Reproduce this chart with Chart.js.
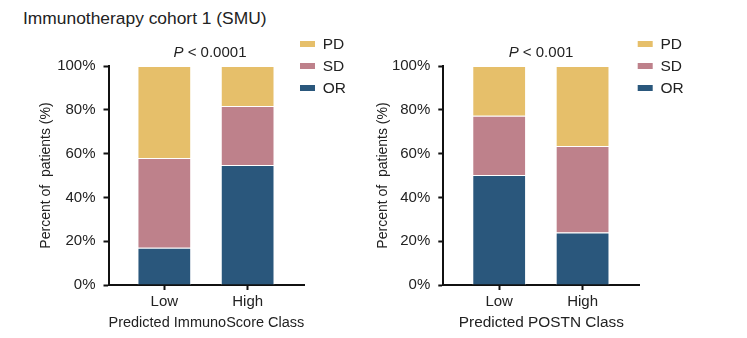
<!DOCTYPE html>
<html><head><meta charset="utf-8">
<script src="https://cdn.jsdelivr.net/npm/chart.js@4.4.1/dist/chart.umd.min.js"></script>
<style>
html,body{margin:0;padding:0;background:#fff;}
body{width:747px;height:338px;position:relative;overflow:hidden;font-family:"Liberation Sans",Arial,sans-serif;}
#title{position:absolute;left:23px;top:9.5px;font-size:17.4px;line-height:1;color:#222;white-space:nowrap;}
.box{position:absolute;top:0;height:338px;}
</style></head><body>
<div id="title">Immunotherapy cohort 1 (SMU)</div>
<div class="box" style="left:0;width:373px"><canvas id="c1" width="373" height="338"></canvas></div>
<div class="box" style="left:373px;width:374px"><canvas id="c2" width="374" height="338"></canvas></div>
<script>
// ---- data ----
const categories = ['Low', 'High'];
const seriesNames = ['OR', 'SD', 'PD'];
const yTicks = [0, 20, 40, 60, 80, 100];

const immunoOR = [17.0, 54.8];
const immunoSD = [41.0, 26.9];
const immunoPD = [42.0, 18.3];

const postnOR = [50.2, 24.0];
const postnSD = [27.1, 39.5];
const postnPD = [22.7, 36.5];

// ---- style ----
const colors = { OR: '#2A577C', SD: '#BE818B', PD: '#E6BF6A' };
const FONT = '"Liberation Sans", Arial, sans-serif';
Chart.defaults.font.family = FONT;

const overlay = {
  id: 'overlay',
  afterDraw(chart, args, opts) {
    const ctx = chart.ctx;
    ctx.save();
    // p-value label
    ctx.fillStyle = '#222';
    ctx.textBaseline = 'middle';
    ctx.textAlign = 'left';
    ctx.font = 'italic 15px ' + FONT;
    const wP = ctx.measureText('P').width;
    ctx.font = '15px ' + FONT;
    const rest = ' < ' + opts.pValue;
    const wR = ctx.measureText(rest).width;
    let x0 = opts.pX - (wP + wR) / 2;
    ctx.font = 'italic 15px ' + FONT;
    ctx.fillText('P', x0, opts.pY);
    ctx.font = '15px ' + FONT;
    ctx.fillText(rest, x0 + wP, opts.pY);
    // legend (reverse order, top = last dataset)
    const ds = chart.data.datasets.slice().reverse();
    ds.forEach((d, i) => {
      const y = opts.legY[i];
      ctx.fillStyle = d.backgroundColor;
      ctx.fillRect(opts.legX, y - 3, 15, 6);
      ctx.fillStyle = '#222';
      ctx.font = '15.5px ' + FONT;
      ctx.textBaseline = 'middle';
      ctx.fillText(d.label, opts.legX + 22.7, y + 1);
    });
    ctx.restore();
  }
};

function makeChart(id, vals, xTitle, pValue, lay) {
  const datasets = seriesNames.map((n, i) => ({
    label: n,
    data: categories.map((c, j) => ({ x: j + 1, y: vals[i][j] })),
    backgroundColor: colors[n],
    borderColor: 'rgba(255,255,255,0.85)',
    borderWidth: 1,
    barPercentage: 0.645,
    categoryPercentage: 1
  }));
  return new Chart(document.getElementById(id), {
    type: 'bar',
    data: { datasets },
    plugins: [overlay],
    options: {
      responsive: false,
      animation: false,
      layout: { padding: { left: 0, right: lay.padRight, top: 66, bottom: 6 } },
      plugins: {
        legend: { display: false },
        tooltip: { enabled: false },
        overlay: { pValue, pX: lay.pX, pY: 53, legX: lay.legX, legY: [44, 66, 88] }
      },
      scales: {
        x: {
          type: 'linear', min: 0.33, max: 2.68, stacked: true, offset: false,
          afterBuildTicks: s => { s.ticks = categories.map((c, i) => ({ value: i + 1 })); },
          ticks: { callback: v => categories[v - 1] ?? '', font: { size: 15 }, color: '#222', padding: 3, autoSkip: false, maxRotation: 0 },
          grid: { display: true, offset: false, drawOnChartArea: false, drawTicks: true, tickLength: 5, tickWidth: 2, tickColor: '#111', color: '#111' },
          border: { display: true, color: '#111', width: 2 },
          title: { display: true, text: xTitle, font: { size: 15.4 }, color: '#222', padding: { top: 0, bottom: 0 } },
          afterFit: s => { s.height = 47; }
        },
        y: {
          min: 0, max: 100, stacked: true,
          afterBuildTicks: s => { s.ticks = yTicks.map(v => ({ value: v })); },
          ticks: { callback: v => v + '%', font: { size: 15 }, color: '#222', padding: 8 },
          grid: { display: true, offset: false, drawOnChartArea: false, tickLength: 5, tickWidth: 2, tickColor: '#111', color: '#111' },
          border: { display: true, color: '#111', width: 2 },
          title: { display: true, text: 'Percent of  patients (%)', font: { size: 14 }, color: '#222', padding: { top: lay.yTitlePad, bottom: 0 } },
          afterFit: s => { s.width = lay.yWidth; }
        }
      }
    }
  });
}

makeChart('c1', [immunoOR, immunoSD, immunoPD], 'Predicted ImmunoScore Class', '0.0001',
  { padRight: 68.7, yWidth: 108.5, yTitlePad: 37.6, pX: 210, legX: 300 });
makeChart('c2', [postnOR, postnSD, postnPD], 'Predicted POSTN Class', '0.001',
  { padRight: 107.7, yWidth: 70.3, yTitlePad: 2.1, pX: 168, legX: 264.7 });
</script>
</body></html>
